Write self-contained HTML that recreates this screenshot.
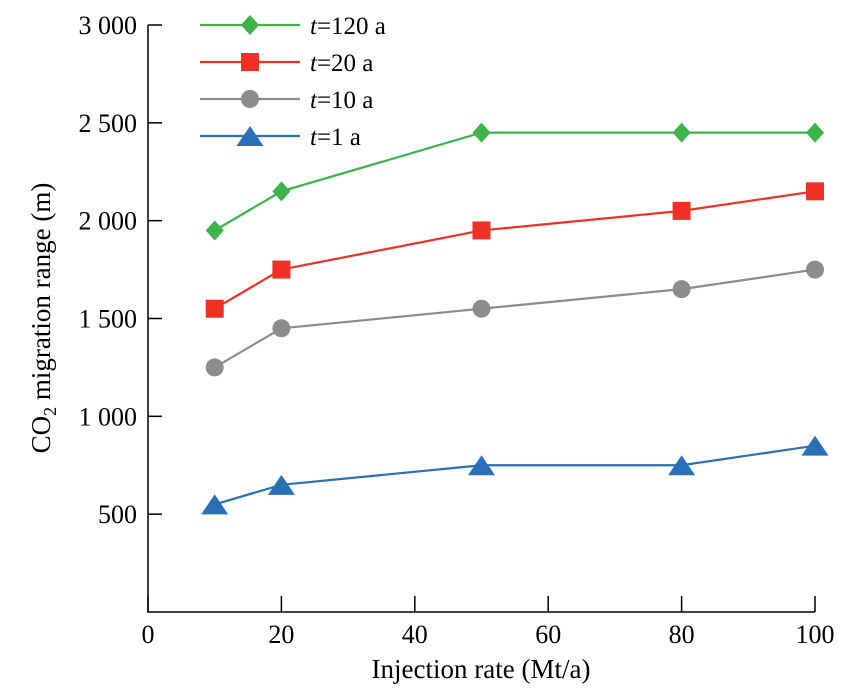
<!DOCTYPE html>
<html><head><meta charset="utf-8"><style>
html,body{margin:0;padding:0;background:#fff;}
svg{display:block;font-family:"Liberation Serif",serif;}
</style></head><body>
<svg id="chart" width="854" height="695"></svg>
<script>
const xValues=[10,20,50,80,100];
const seriesNames=["t120","t20","t10","t1"];
const seriesLabels=["=120 a","=20 a","=10 a","=1 a"];
const s120=[1950,2150,2450,2450,2450];
const s20=[1550,1750,1950,2050,2150];
const s10=[1250,1450,1550,1650,1750];
const s1=[550,650,750,750,850];
const xTicks=[0,20,40,60,80,100];
const yTicks=[500,1000,1500,2000,2500,3000];
const yTickLabels=["500","1 000","1 500","2 000","2 500","3 000"];

const NS="http://www.w3.org/2000/svg";
const svg=document.getElementById('chart');
const X=v=>148+v*(815-148)/100;
const Y=v=>612-v*(612-25)/3000;
function mk(t,a,p){const e=document.createElementNS(NS,t);for(const k in a)e.setAttribute(k,a[k]);(p||svg).appendChild(e);return e;}

const axes=mk('g',{});


const yl=mk('line',{x1:148,y1:25,x2:148,y2:612,stroke:'#000','stroke-width':1.5},axes);


const xl=mk('line',{x1:147,y1:612,x2:815,y2:612,stroke:'#000','stroke-width':1.5},axes);


xTicks.forEach(v=>{
  mk('line',{x1:X(v),y1:612,x2:X(v),y2:596,stroke:'#000','stroke-width':1.5},axes);
  const t=mk('text',{x:X(v),y:643,'text-anchor':'middle','font-size':26},axes);
  t.textContent=v;
  
  
});
yTicks.forEach((v,i)=>{
  mk('line',{x1:148,y1:Y(v),x2:162,y2:Y(v),stroke:'#000','stroke-width':1.5},axes);
  const t=mk('text',{x:137,y:Y(v)+9,'text-anchor':'end','font-size':26},axes);
  t.textContent=yTickLabels[i];
  
  
});
const xt=mk('text',{x:481,y:678,'text-anchor':'middle','font-size':27});
xt.textContent='Injection rate (Mt/a)';


const yt=mk('text',{transform:'translate(50,318) rotate(-90)','text-anchor':'middle','font-size':27});
yt.innerHTML='CO<tspan font-size="18" dy="6">2</tspan><tspan dy="-6"> migration range (m)</tspan>';



const colors=['#3cb44b','#ee3124','#8c8c8c','#2a70b8'];
const markers=['diamond','square','circle','triangle'];
const data=[s120,s20,s10,s1];
function marker(type,cx,cy,c,p){
  if(type==='diamond')return mk('polygon',{points:`${cx},${cy-10} ${cx+9},${cy} ${cx},${cy+10} ${cx-9},${cy}`,fill:c},p);
  if(type==='square')return mk('rect',{x:cx-9,y:cy-9,width:18,height:18,fill:c},p);
  if(type==='circle')return mk('circle',{cx:cx,cy:cy,r:9,fill:c},p);
  return mk('polygon',{points:`${cx},${cy-10} ${cx+13.5},${cy+10} ${cx-13.5},${cy+10}`,fill:c},p);
}
data.forEach((d,si)=>{
  const g=mk('g',{});
  
  
  const pts=d.map((v,i)=>X(xValues[i])+','+Y(v)).join(' ');
  const pl=mk('polyline',{points:pts,fill:'none',stroke:colors[si],'stroke-width':2.2},g);
  
  
  d.forEach((v,i)=>{
    const m=marker(markers[si],X(xValues[i]),Y(v),colors[si],g);
    
    
  });
  const ly=25+si*37;
  const lg=mk('g',{});
  
  
  mk('line',{x1:200,y1:ly,x2:300,y2:ly,stroke:colors[si],'stroke-width':2.2},lg);
  marker(markers[si],250,ly,colors[si],lg);
  const lt=mk('text',{x:310,y:ly+9,'font-size':25},lg);
  lt.innerHTML='<tspan font-style="italic">t</tspan>'+seriesLabels[si];
});
</script>
</body></html>
